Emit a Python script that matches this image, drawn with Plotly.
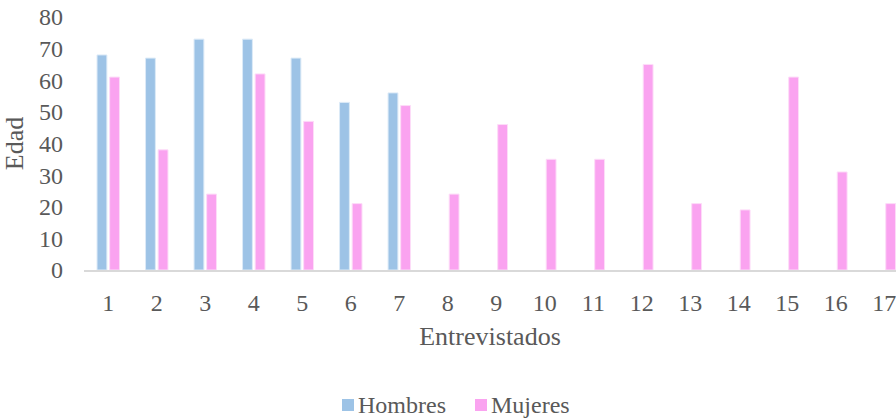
import plotly.graph_objects as go

# Interviewees (1..17) and their ages by sex
entrevistados = [str(i) for i in range(1, 18)]
hombres = [68, 67, 73, 73, 67, 53, 56, None, None, None, None, None, None, None, None, None, None]
mujeres = [61, 38, 24, 62, 47, 21, 52, 24, 46, 35, 35, 65, 21, 19, 61, 31, 21]
y_ticks = [0, 10, 20, 30, 40, 50, 60, 70, 80]

TEXT = "#595959"
FONT = "Liberation Serif, Times New Roman, serif"
BLUE = "#9DC3E6"
PINK = "#FAA3F0"

W, H = 896, 418
ML, MR, MT, MB = 84, 0, 17, 148
PW, PH = W - ML - MR, H - MT - MB


def px_x(x):
    return (x - ML) / PW


def px_y(y):
    return (H - MB - y) / PH


fig = go.Figure()
fig.add_trace(go.Bar(
    name="Hombres", x=entrevistados, y=hombres,
    marker=dict(color=BLUE, line=dict(color="#DCEAF7", width=1)),
))
fig.add_trace(go.Bar(
    name="Mujeres", x=entrevistados, y=mujeres,
    marker=dict(color=PINK, line=dict(color="#FDDCF8", width=1)),
))

fig.update_layout(
    width=W, height=H,
    margin=dict(l=ML, r=MR, t=MT, b=MB),
    paper_bgcolor="white", plot_bgcolor="white",
    barmode="group", bargap=0.48, bargroupgap=0.22,
    font=dict(family=FONT, color=TEXT, size=24),
    showlegend=False,
)

# Legend drawn as swatches + labels below the axis title
legend_items = [("Hombres", BLUE, 342), ("Mujeres", PINK, 475)]
for name, color, left in legend_items:
    fig.add_shape(
        type="rect", xref="paper", yref="paper",
        x0=px_x(left), x1=px_x(left + 12), y0=px_y(399), y1=px_y(411),
        fillcolor=color, line=dict(width=0),
    )
    fig.add_annotation(
        text=name, xref="paper", yref="paper",
        x=px_x(left + 14), y=px_y(405), xanchor="left", yanchor="middle",
        showarrow=False, font=dict(size=24, color=TEXT),
    )

fig.update_xaxes(
    type="category", range=[-0.5, 16.24],
    showline=True, linecolor="#D9D9D9", linewidth=2,
    showgrid=False, ticks="", ticklabelstandoff=10,
    tickfont=dict(size=24, color=TEXT),
    title=dict(text="Entrevistados", font=dict(size=26, color=TEXT), standoff=12),
)
fig.update_yaxes(
    range=[0, 80], tickvals=y_ticks,
    showline=False, showgrid=False, zeroline=False,
    ticks="", ticklabelstandoff=20,
    tickfont=dict(size=24, color=TEXT),
    title=dict(text="Edad", font=dict(size=26, color=TEXT), standoff=10),
)

fig.write_html("out.html")
